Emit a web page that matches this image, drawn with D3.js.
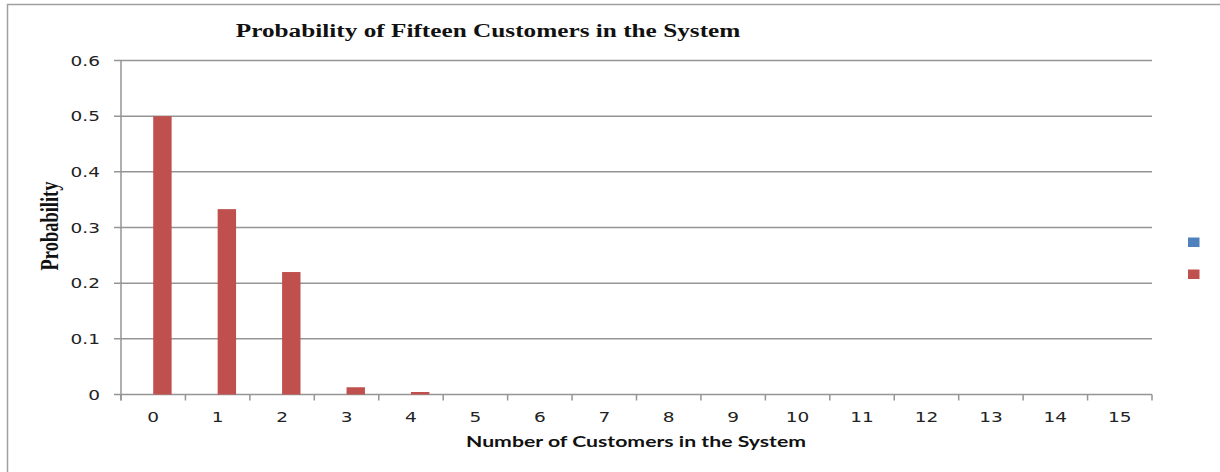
<!DOCTYPE html>
<html><head><meta charset="utf-8">
<script src="https://cdn.jsdelivr.net/npm/d3@7"></script>
<style>body{margin:0;background:#fff}svg{display:block}</style>
</head><body>
<svg id="c" width="1220" height="472"></svg>
<script>
const categories = ["0","1","2","3","4","5","6","7","8","9","10","11","12","13","14","15"];
const seriesA = [0,0,0,0,0,0,0,0,0,0,0,0,0,0,0,0];
const seriesB = [0.5,0.333,0.22,0.013,0.0045,0,0,0,0,0,0,0,0,0,0,0];
const yTicks = [0,0.1,0.2,0.3,0.4,0.5,0.6];
const seriesColors = ["#4F81BD","#C0504D"];

const SX = 1.37; // horizontal stretch of the reference's text
const svg = d3.select("#c");
const L = 121, R = 1152, T = 60.5, B = 394.5;
const x = d3.scaleBand().domain(categories).range([L,R]).paddingInner(0).paddingOuter(0);
const y = d3.scaleLinear().domain([0,0.6]).range([B,T]);
const bw = x.bandwidth()/3.5;

// border
svg.append("path").attr("d","M7.5,472 L7.5,4.5 L1220,4.5").attr("fill","none").attr("stroke","#a0a0a0").attr("stroke-width",1.5);

// gridlines
svg.append("g").selectAll("line").data(yTicks).join("line")
  .attr("x1",L-7).attr("x2",R).attr("y1",d=>y(d)).attr("y2",d=>y(d))
  .attr("stroke","#959595").attr("stroke-width",1.5);

// bars
const g = svg.append("g");
[seriesA, seriesB].forEach((s,si)=>{
  g.selectAll(null).data(s).join("rect")
    .attr("x",(d,i)=>x(categories[i]) + x.bandwidth()/2 - bw + si*bw)
    .attr("width",bw)
    .attr("y",d=>y(d))
    .attr("height",d=>B-y(d))
    .attr("fill",seriesColors[si]);
});

// y axis line
svg.append("line").attr("x1",L).attr("x2",L).attr("y1",T).attr("y2",B+6).attr("stroke","#959595").attr("stroke-width",1.5);
// x ticks
const bounds = categories.map(c=>x(c)).concat([R]);
svg.append("g").selectAll("line").data(bounds).join("line")
  .attr("x1",d=>d).attr("x2",d=>d).attr("y1",B).attr("y2",B+6)
  .attr("stroke","#959595").attr("stroke-width",1.5);

// y tick labels
svg.append("g").selectAll("text").data(yTicks).join("text")
  .attr("transform",d=>`translate(100,${y(d)+5}) scale(${SX},1)`).attr("text-anchor","end")
  .attr("font-family","DejaVu Sans").attr("font-size",13.5).attr("fill","#222")
  .text(d=>d===0?"0":String(d));

// x tick labels
svg.append("g").selectAll("text").data(categories).join("text")
  .attr("transform",d=>`translate(${x(d)+x.bandwidth()/2},422) scale(${SX},1)`).attr("text-anchor","middle")
  .attr("font-family","DejaVu Sans").attr("font-size",13.5).attr("fill","#222")
  .text(d=>d);

// title
svg.append("text").attr("transform",`translate(488,37) scale(1.33,1)`).attr("text-anchor","middle")
  .attr("font-family","Liberation Serif").attr("font-weight","bold").attr("font-size",19).attr("fill","#111")
  .text("Probability of Fifteen Customers in the System");

// y axis title
svg.append("text").attr("transform",`translate(58,226) scale(${SX},1) rotate(-90)`).attr("text-anchor","middle")
  .attr("font-family","Liberation Serif").attr("font-weight","bold").attr("font-size",18.5).attr("fill","#111")
  .text("Probability");

// x axis title
svg.append("text").attr("transform",`translate(636,447) scale(${SX},1)`).attr("text-anchor","middle")
  .attr("font-family","Lato").attr("font-weight","bold").attr("font-size",15.5).attr("fill","#111")
  .text("Number of Customers in the System");

// legend
svg.append("g").selectAll("rect").data(seriesColors).join("rect")
  .attr("x",1188).attr("y",(d,i)=>237.5+i*32).attr("width",11.5).attr("height",9.5).attr("fill",d=>d);
</script>
</body></html>
